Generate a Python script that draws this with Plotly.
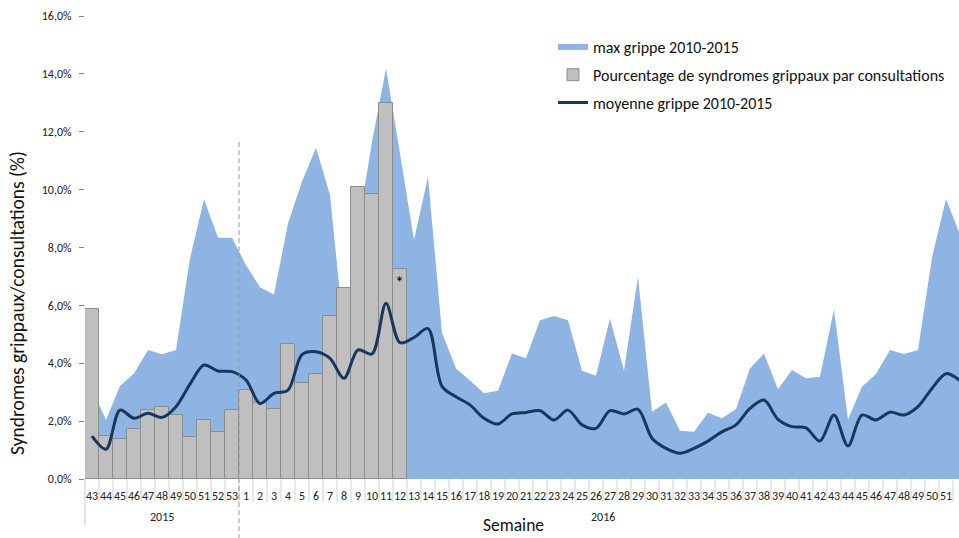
import plotly.graph_objects as go

# ---------------- data ----------------
weeks_2015 = ["43", "44", "45", "46", "47", "48", "49", "50", "51", "52", "53"]
weeks_2016 = [str(w) for w in range(1, 53)]
week_labels = weeks_2015 + weeks_2016
year_labels = ["2015", "2016"]
year_of_week = ["2015"] * len(weeks_2015) + ["2016"] * len(weeks_2016)

# max grippe 2010-2015 (%), one value per week
max_grippe = [3.10, 2.04, 3.21, 3.65, 4.46, 4.31, 4.46, 7.62, 9.67, 8.34, 8.34,
              7.39, 6.63, 6.38, 8.83, 10.28, 11.45, 9.81, 5.04, 8.68, 11.65, 14.19, 11.25,
              8.26, 10.44, 5.05, 3.82, 3.40, 2.96, 3.05, 4.34, 4.17, 5.49, 5.63, 5.49,
              3.74, 3.57, 5.55, 3.74, 6.99,
              2.32, 2.64, 1.67, 1.63, 2.29, 2.10, 2.42, 3.82, 4.34, 3.10, 3.77, 3.48, 3.53,
              5.86, 2.06, 3.19, 3.63, 4.46, 4.32, 4.46, 7.65, 9.68, 8.45]

# moyenne grippe 2010-2015 (%)
moyenne = [1.48, 1.03, 2.38, 2.10, 2.27, 2.13, 2.50, 3.28, 3.94, 3.73, 3.71,
           3.42, 2.61, 2.96, 3.07, 4.30, 4.40, 4.17, 3.48, 4.46, 4.32, 6.07, 4.71,
           4.89, 5.20, 3.20, 2.84, 2.56, 2.10, 1.90, 2.25, 2.30, 2.36, 2.04, 2.38,
           1.87, 1.75, 2.36, 2.25, 2.41,
           1.41, 1.06, 0.89, 1.06, 1.31, 1.63, 1.87, 2.44, 2.73, 2.06, 1.81, 1.77, 1.31,
           2.21, 1.14, 2.21, 2.04, 2.31, 2.21, 2.50, 3.13, 3.64, 3.40]

# Pourcentage de syndromes grippaux par consultations (%) : 2015-43 .. 2016-12
pourcentage = [5.87, 1.50, 1.39, 1.74, 2.39, 2.50, 2.21, 1.44, 2.05, 1.61, 2.39,
               3.07, 2.64, 2.42, 4.66, 3.31, 3.64, 5.64, 6.59, 10.09, 9.86, 13.01, 7.24]

# ---------------- figure ----------------
FONT = "Carlito, Lato, 'Open Sans', sans-serif"
W, H = 959, 538
ML, MR, MT, MB = 85, 0, 16, 59
PH = H - MT - MB
PW = W - ML - MR

x = list(range(len(week_labels)))
xb = x[:len(pourcentage)]

fig = go.Figure()
fig.add_trace(go.Scatter(
    x=x, y=max_grippe, mode="none", fill="tozeroy", fillcolor="#8DB4E2",
    name="max grippe 2010-2015", legendgroup="a", zorder=0, hoverinfo="skip"))
fig.add_trace(go.Bar(
    x=xb, y=pourcentage, name="Pourcentage de syndromes grippaux par consultations",
    marker=dict(color="#BFBFBF", line=dict(color="#8C8C8C", width=1)),
    legendgroup="b", zorder=1))
fig.add_trace(go.Scatter(
    x=x, y=moyenne, mode="lines", name="moyenne grippe 2010-2015",
    line=dict(color="#17375E", width=3, shape="spline", smoothing=0.9),
    legendgroup="c", zorder=2))

def py(px_from_axis):
    return -px_from_axis / PH

shapes = []
# separators between week labels
for i in range(1, len(x)):
    shapes.append(dict(type="line", xref="x", yref="paper", x0=i - 0.5, x1=i - 0.5,
                       y0=0, y1=py(23), line=dict(color="#D0D0D0", width=1)))
# left group boundary
shapes.append(dict(type="line", xref="paper", yref="paper", x0=0, x1=0,
                   y0=0, y1=py(46), line=dict(color="#C8C8C8", width=1)))
# year boundary (dashed)
yb = len(weeks_2015) - 0.5
shapes.append(dict(type="line", xref="x", yref="paper", x0=yb, x1=yb,
                   y0=(479 - 142) / PH, y1=py(MB), line=dict(color="#9A9A9A", width=1, dash="5px,3px")))

annotations = []
for yl in year_labels:
    idx = [i for i, y in enumerate(year_of_week) if y == yl]
    annotations.append(dict(x=(idx[0] + idx[-1]) / 2, y=py(38), xref="x", yref="paper",
                            text=yl, showarrow=False, font=dict(size=12, family=FONT, color="#222"),
                            yanchor="middle"))
annotations.append(dict(x=(513 - ML) / PW, y=py(58), xref="paper", yref="paper",
                        text="Semaine", showarrow=False, yanchor="bottom", borderpad=0,
                        font=dict(size=17.5, family=FONT, color="#111")))
annotations.append(dict(x=(17 - ML) / PW, y=(479 - 303) / PH, xref="paper", yref="paper",
                        text="Syndromes grippaux/consultations (%)", showarrow=False,
                        textangle=-90, xanchor="center", yanchor="middle",
                        font=dict(size=19.5, family=FONT, color="#111")))
annotations.append(dict(x=xb[-1], y=pourcentage[-1], xref="x", yref="y", text="*",
                        showarrow=False, yanchor="top", yshift=-1,
                        font=dict(size=18, family=FONT, color="#000")))

fig.update_layout(
    width=W, height=H, margin=dict(l=ML, r=MR, t=MT, b=MB, pad=0),
    paper_bgcolor="white", plot_bgcolor="white",
    separators=", ", bargap=0,
    font=dict(family=FONT, color="#222"),
    showlegend=True,
    legend=dict(x=(553 - ML) / PW, y=(479 - 30) / PH, xanchor="left", yanchor="top",
                bgcolor="rgba(0,0,0,0)", traceorder="grouped", tracegroupgap=4,
                font=dict(size=16, family=FONT, color="#111")),
    xaxis=dict(range=[-0.5, 61.93], tickmode="array", tickvals=x, ticktext=week_labels,
               tickangle=0, ticks="outside", ticklen=6, tickcolor="rgba(0,0,0,0)",
               showline=True, linecolor="#868686", linewidth=1, showgrid=False, zeroline=False,
               tickfont=dict(size=12, family=FONT, color="#222")),
    yaxis=dict(range=[0, 16], dtick=2, tickformat=".1f", ticksuffix="%",
               ticks="outside", ticklen=5, tickcolor="#868686", ticklabelstandoff=5,
               showline=True, linecolor="#868686", linewidth=1, showgrid=False, zeroline=False,
               tickfont=dict(size=12, family=FONT, color="#222")),
    shapes=shapes, annotations=annotations,
)

fig.write_html("out.html")
